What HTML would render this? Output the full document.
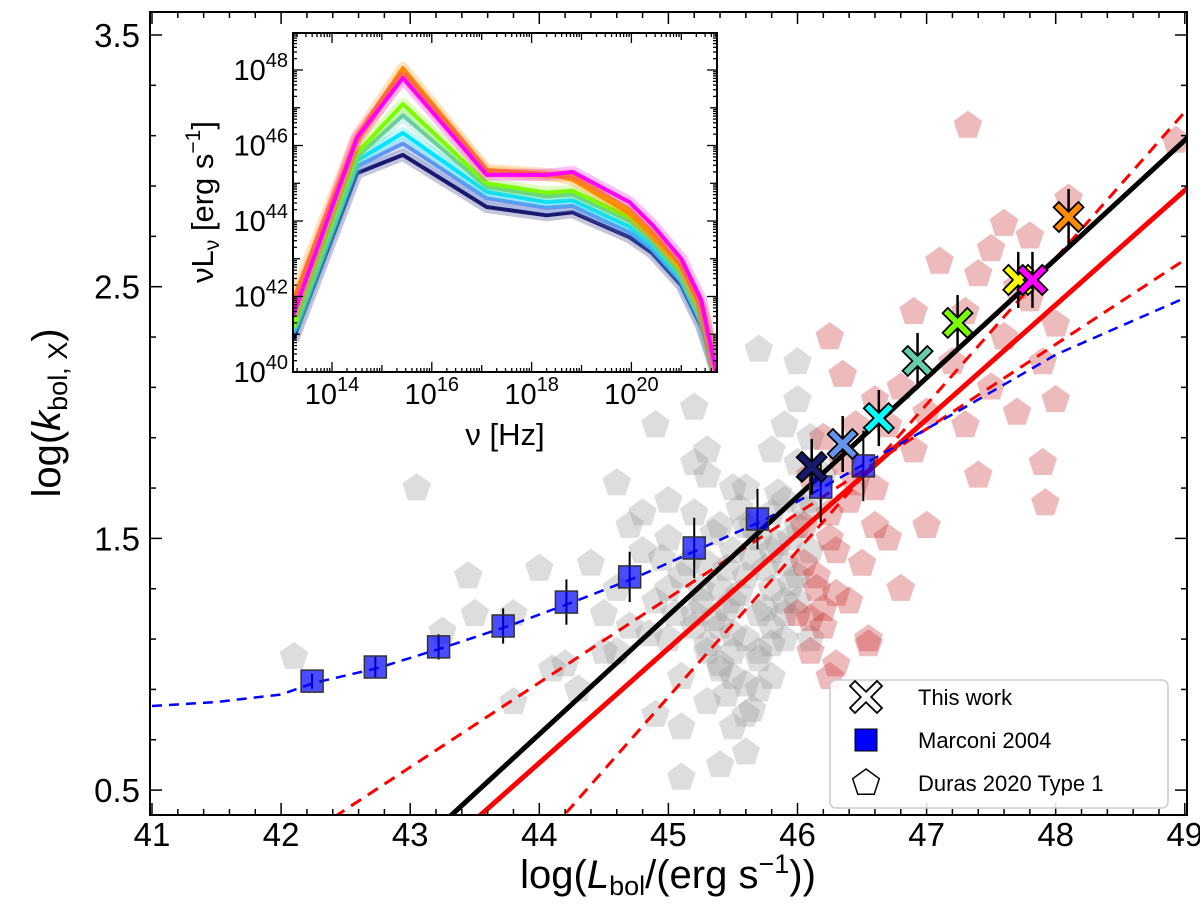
<!DOCTYPE html>
<html><head><meta charset="utf-8"><style>
html,body{margin:0;padding:0;background:#fff;overflow:hidden;width:1200px;height:924px;}
svg{display:block;font-family:"Liberation Sans","DejaVu Sans",sans-serif;}
</style></head>
<body>
<svg id="chart" width="1200" height="924" viewBox="0 0 1200 924"></svg>
<script>
// ---- main chart data ----
const grayX=[42.1,43.05,43.25,43.45,43.5,43.8,44.0,44.1,44.3,44.6,44.9,45.2,45.7,46.0,45.4,44.9,45.6,43.8,45.1,
44.5,44.6,44.7,44.8,44.9,45.0,45.0,45.1,45.1,45.2,45.2,45.3,45.3,45.3,45.4,45.4,45.4,45.5,45.5,45.5,45.6,45.6,45.6,45.7,45.7,45.7,45.8,45.8,45.8,45.9,45.9,45.9,46.0,46.0,46.0,46.1,46.1,
44.4,44.6,44.8,45.0,45.2,45.3,45.5,45.6,45.8,45.9,46.0,46.1,45.2,45.4,45.6,45.8,44.7,45.0,45.1,45.3,45.5,45.7,45.9,46.0,44.2,44.5,45.5,45.8,46.1,46.2,
45.25,45.35,45.45,45.55,45.65,45.75,45.85,45.95,45.3,45.5,45.7,45.9,45.4,45.6,45.8,46.05,45.15,45.35,45.55,45.75,45.95,45.05,45.25,45.45,45.65,45.85,44.85,44.95,45.45,45.65];
const grayY=[1.03,1.70,1.13,1.35,1.20,1.20,1.38,0.98,0.90,1.72,1.95,2.02,2.25,2.20,0.60,0.80,0.65,0.85,0.55,
1.05,1.30,1.15,1.45,1.25,1.10,1.50,1.35,0.95,1.20,1.60,1.05,1.40,1.75,1.15,1.30,1.55,0.95,1.25,1.45,1.10,1.35,1.70,1.20,1.50,0.90,1.30,1.60,1.85,1.10,1.40,1.95,1.25,1.55,1.80,1.45,1.90,
1.40,1.05,1.60,1.30,1.15,0.85,1.05,1.55,1.15,1.65,1.35,1.65,1.80,1.00,0.80,0.95,1.55,1.65,0.75,1.85,1.70,1.05,1.25,2.05,1.00,1.20,0.75,1.45,1.10,1.75,
1.25,1.18,1.38,1.28,1.42,1.22,1.48,1.32,1.08,1.12,1.02,1.20,0.98,0.92,1.08,1.62,1.40,1.52,1.62,1.38,1.50,1.20,1.30,1.22,1.55,1.68,1.12,1.42,0.88,0.82];
const redX=[46.0,46.05,46.1,46.1,46.15,46.2,46.2,46.25,46.3,46.3,46.35,46.4,46.4,46.45,46.5,46.55,46.6,46.6,46.7,46.7,46.8,46.9,47.0,46.25,46.35,
47.2,47.3,47.4,47.5,47.5,47.6,47.7,47.7,47.8,47.8,47.9,47.9,48.0,48.0,47.6,47.3,47.4,46.9,47.1,48.1,47.32,48.93,47.92,46.55,46.25,46.8,47.0,
46.1,46.2,46.15,46.05,46.3,46.25,46.45,46.6];
const redY=[1.20,1.55,1.05,1.75,1.35,1.90,1.15,1.60,1.00,1.45,1.80,1.25,1.65,1.95,1.40,1.10,1.70,2.05,1.50,1.95,2.10,1.85,2.00,2.30,2.15,
2.20,2.40,2.55,2.10,2.65,2.30,2.50,2.00,2.45,2.70,2.20,1.80,2.35,2.05,2.75,1.95,1.75,2.40,2.60,2.85,3.14,3.08,1.64,1.08,0.95,1.30,1.55,
1.18,1.22,1.30,1.40,1.28,1.50,1.72,1.55];
const marX=[42.24,42.73,43.22,43.72,44.21,44.70,45.20,45.69,46.18,46.51];
const marY=[0.933,0.989,1.069,1.152,1.247,1.347,1.462,1.577,1.704,1.788];
const marErr=[0.03,0.04,0.05,0.07,0.09,0.10,0.12,0.12,0.14,0.14];
const blueX=[41,41.5,42,42.25,42.75,43.25,43.75,44.25,44.75,45.25,45.75,46.5,47.26,48,49];
const blueY=[0.834,0.85,0.88,0.925,0.985,1.065,1.15,1.245,1.345,1.46,1.575,1.79,2.01,2.23,2.455];
const workX=[46.11,46.35,46.63,46.93,47.24,47.71,47.82,48.10];
const workY=[1.784,1.875,1.978,2.205,2.356,2.527,2.527,2.777];
const workColors=["#191970","#6495ed","#00ffff","#66cdaa","#7cfc00","#ffff00","#ff00ff","#ff8c00"];
const blackFit=[0.472,1.194];
const redFit=[0.455,1.063];
const redLoA=[0.336,1.263];
const redHiA=[0.581,0.870];
// ---- inset data ----
const sedNu=[13.22,14.5,15.42,17.1,18.3,18.82,19.96,20.42,21.0,21.4,21.7];
const sedNavy=[40.85,45.27,45.75,44.37,44.15,44.23,43.57,43.15,42.3,41.2,40.0];
const sedBlue=[41.0,45.45,46.05,44.6,44.35,44.4,43.7,43.25,42.4,41.3,40.0];
const sedCyan=[41.1,45.6,46.33,44.77,44.5,44.55,43.85,43.35,42.5,41.4,40.0];
const sedAqua=[41.15,45.7,46.8,44.9,44.65,44.7,44.0,43.5,42.6,41.5,40.0];
const sedGreen=[41.2,45.8,47.1,45.0,44.75,44.8,44.1,43.6,42.7,41.6,40.0];
const sedYellow=[41.7,46.1,47.9,45.3,45.2,45.2,44.3,43.7,42.8,41.7,40.0];
const sedMagenta=[41.5,46.2,47.79,45.22,45.22,45.3,44.5,43.9,43.0,41.9,40.0];
const sedOrange=[41.9,46.25,48.05,45.35,45.25,45.1,44.2,43.6,42.8,41.7,40.0];

const NS="http://www.w3.org/2000/svg";
const svg=document.getElementById('chart');
function mk(tag,attrs,parent){const e=document.createElementNS(NS,tag);for(const k in attrs)e.setAttribute(k,attrs[k]);(parent||svg).appendChild(e);return e;}
const X0=152,XS=129.1,Y0=35,YS=251.7;
const sx=v=>X0+(v-41)*XS, sy=v=>Y0+(3.5-v)*YS;
const PL=150,PR=1187,PT=12,PB=815;
const defs=mk('defs',{});
const cp=mk('clipPath',{id:'pc'},defs);mk('rect',{x:PL,y:PT,width:PR-PL,height:PB-PT},cp);
const plot=mk('g',{'clip-path':'url(#pc)'});



function pent(cx,cy,r){let p=[];for(let i=0;i<5;i++){const a=-Math.PI/2+i*2*Math.PI/5;p.push((cx+r*Math.cos(a)).toFixed(1)+','+(cy+r*Math.sin(a)).toFixed(1));}return p.join(' ');}
for(let i=0;i<grayX.length;i++){const e=mk('polygon',{points:pent(sx(grayX[i]),sy(grayY[i]),15),fill:'#999',opacity:0.33},plot);

}
for(let i=0;i<redX.length;i++){const e=mk('polygon',{points:pent(sx(redX[i]),sy(redY[i]),15),fill:'#c83232',opacity:0.33},plot);

}

function fitLine(f,color,w,dash,name){
  const yMin=0.35;
  let a=45+(yMin-f[1])/f[0]; if(a<40.9)a=40.9;
  const b=49.2;
  const e=mk('line',{x1:sx(a),y1:sy(f[1]+f[0]*(a-45)),x2:sx(b),y2:sy(f[1]+f[0]*(b-45)),stroke:color,'stroke-width':w},plot);if(dash)e.setAttribute('stroke-dasharray',dash);

}
fitLine(redLoA,'#ff0000',3,'12,8','red-dashed-lower-bound');
fitLine(redHiA,'#ff0000',3,'12,8','red-dashed-upper-bound');
fitLine(redFit,'#ff0000',5,null,'red-fit-line');
let bd='';for(let i=0;i<blueX.length;i++)bd+=(i?'L':'M')+sx(blueX[i]).toFixed(1)+','+sy(blueY[i]).toFixed(1);
const bc=mk('path',{d:bd,fill:'none',stroke:'#0000ff','stroke-width':2.5,'stroke-dasharray':'10,7','stroke-linejoin':'round'},plot);


fitLine(blackFit,'#000',5,null,'black-fit-line');
for(let i=0;i<marX.length;i++){const cx=sx(marX[i]),cy=sy(marY[i]),h=marErr[i]*YS;
mk('line',{x1:cx,y1:cy-h,x2:cx,y2:cy+h,stroke:'#000','stroke-width':2},plot);
const r=mk('rect',{x:cx-11,y:cy-11,width:22,height:22,fill:'#0000ff','fill-opacity':0.7,stroke:'#333','stroke-width':1.5},plot);

}
function cross(cx,cy,s,fill,parent){const a=s*0.35,b=s;const pts=[[0,-a],[b-a,-b],[b,-(b-a)],[a,0],[b,b-a],[b-a,b],[0,a],[-(b-a),b],[-b,b-a],[-a,0],[-b,-(b-a)],[-(b-a),-b]];
return mk('polygon',{points:pts.map(p=>(cx+p[0]).toFixed(1)+','+(cy+p[1]).toFixed(1)).join(' '),fill:fill,stroke:'#000','stroke-width':1.8,'stroke-linejoin':'miter'},parent);}
for(let i=0;i<workX.length;i++){const cx=sx(workX[i]),cy=sy(workY[i]);
mk('line',{x1:cx,y1:cy-28,x2:cx,y2:cy+28,stroke:'#000','stroke-width':2.5},plot);}
for(let i=0;i<workX.length;i++){const c=cross(sx(workX[i]),sy(workY[i]),15,workColors[i],plot);

}

const fr=mk('rect',{x:PL,y:PT,width:PR-PL,height:PB-PT,fill:'none',stroke:'#000','stroke-width':2});


const xTicks=[41,42,43,44,45,46,47,48,49];
const yTicks=[0.5,1.5,2.5,3.5];
for(let v=41;v<=49.001;v+=0.2){const x=sx(v);const maj=Math.abs(v-Math.round(v))<1e-6;const L=maj?12:6;
mk('line',{x1:x,y1:PB,x2:x,y2:PB-L,stroke:'#000','stroke-width':1.5});mk('line',{x1:x,y1:PT,x2:x,y2:PT+L,stroke:'#000','stroke-width':1.5});}
for(let v=0.5;v<=3.6;v+=0.2){const y=sy(v);if(y<PT||y>PB)continue;const maj=Math.abs((v-0.5)-Math.round(v-0.5))<1e-6;const L=maj?12:6;
mk('line',{x1:PL,y1:y,x2:PL+L,y2:y,stroke:'#000','stroke-width':1.5});mk('line',{x1:PR,y1:y,x2:PR-L,y2:y,stroke:'#000','stroke-width':1.5});}
for(const v of xTicks){const t=mk('text',{x:sx(v),y:846,'font-size':33,'text-anchor':'middle'});t.textContent=v;

}
for(const v of yTicks){const t=mk('text',{x:140,y:sy(v)+12,'font-size':33,'text-anchor':'end'});t.textContent=v.toFixed(1);

}
</script>
<script>
const NS2="http://www.w3.org/2000/svg";
const s2=document.getElementById('chart');
s2.insertAdjacentHTML('beforeend',`
<text x="668" y="888" font-size="40" text-anchor="middle">log(<tspan font-style="italic">L</tspan><tspan font-size="27" dy="7">bol</tspan><tspan dy="-7">/(erg s</tspan><tspan font-size="27" dy="-15">−1</tspan><tspan dy="15">))</tspan></text>
<text transform="translate(60,413) rotate(-90)" font-size="40" text-anchor="middle">log(<tspan font-style="italic">k</tspan><tspan font-size="27" dy="7">bol, X</tspan><tspan dy="-7">)</tspan></text>
<g>
<rect x="830" y="680" width="338" height="128" rx="6" fill="#fff" fill-opacity="0.85" stroke="#ccc" stroke-width="1.5"/>
<polygon points="866,691.8 877.0,681 882,686 871.2,697 882,708 877.0,713 866,702.2 855.0,713 850,708 860.8,697 850,686 855.0,681" fill="#fff" stroke="#000" stroke-width="1.8"/>
<text x="918" y="705" font-size="22">This work</text>
<rect x="855" y="729" width="22" height="22" fill="#0000ff" stroke="#000" stroke-width="1"/>
<text x="918" y="748" font-size="22">Marconi 2004</text>
<polygon points="866,769 879.3,778.7 874.2,794.3 857.8,794.3 852.7,778.7" fill="#fff" stroke="#000" stroke-width="1.5"/>
<text x="918" y="791" font-size="22">Duras 2020 Type 1</text>
</g>`);
const IL=293,IR=717,IT=33,IB=372;
const ix=v=>332+(v-14)*49.9, iy=v=>70+(48-v)*37.75;
const ins=document.createElementNS(NS2,'g');


s2.appendChild(ins);
function m2(tag,a,p){const e=document.createElementNS(NS2,tag);for(const k in a)e.setAttribute(k,a[k]);(p||ins).appendChild(e);return e;}
m2('rect',{x:IL,y:IT,width:IR-IL,height:IB-IT,fill:'#fff'});
const cp2=m2('clipPath',{id:'ic'});m2('rect',{x:IL,y:IT,width:IR-IL,height:IB-IT},cp2);
const ig=m2('g',{'clip-path':'url(#ic)'});
const seds=[[sedNavy,'#191970'],[sedBlue,'#6495ed'],[sedCyan,'#00e5ff'],[sedAqua,'#66cdaa'],[sedGreen,'#7cfc00'],[sedYellow,'#ffa500'],[sedOrange,'#ff8c00'],[sedMagenta,'#ff00ff']];
for(const [arr,c] of seds){let d='';for(let i=0;i<sedNu.length;i++)d+=(i?'L':'M')+ix(sedNu[i]).toFixed(1)+','+iy(arr[i]).toFixed(1);
m2('path',{d:d,fill:'none',stroke:c,'stroke-width':12,'stroke-opacity':0.25,'stroke-linejoin':'round'},ig);
const p=m2('path',{d:d,fill:'none',stroke:c,'stroke-width':4,'stroke-linejoin':'round'},ig);

}
m2('rect',{x:IL,y:IT,width:IR-IL,height:IB-IT,fill:'none',stroke:'#000','stroke-width':2});
const inXT=[14,16,18,20];
const inYT=[40,42,44,46,48];
for(let d=13;d<=21;d++){for(let k=1;k<10;k++){const v=d+Math.log10(k);const x=ix(v);if(x<IL||x>IR)continue;const L=k==1?(d%2==0?10:7):4;
m2('line',{x1:x,y1:IB,x2:x,y2:IB-L,stroke:'#000','stroke-width':1.3});m2('line',{x1:x,y1:IT,x2:x,y2:IT+L,stroke:'#000','stroke-width':1.3});}}
for(let d=40;d<=48;d++){for(let k=1;k<10;k++){const v=d+Math.log10(k);const y=iy(v);if(y<IT||y>IB)continue;const L=k==1?(d%2==0?10:7):4;
m2('line',{x1:IL,y1:y,x2:IL+L,y2:y,stroke:'#000','stroke-width':1.3});m2('line',{x1:IR,y1:y,x2:IR-L,y2:y,stroke:'#000','stroke-width':1.3});}}
for(const v of inXT){const t=m2('text',{x:ix(v),y:404,'font-size':29,'text-anchor':'middle'});t.innerHTML='10<tspan font-size="20" dy="-13">'+v+'</tspan>';

}
for(const v of inYT){const t=m2('text',{x:288,y:iy(v)+10,'font-size':29,'text-anchor':'end'});t.innerHTML='10<tspan font-size="20" dy="-13">'+v+'</tspan>';

}
const xt=m2('text',{x:505,y:445,'font-size':31,'text-anchor':'middle'});xt.textContent='ν [Hz]';


const yt=m2('text',{transform:'translate(213,202) rotate(-90)','font-size':31,'text-anchor':'middle'});yt.innerHTML='νL<tspan font-size="21" dy="6">ν</tspan><tspan dy="-6"> [erg s</tspan><tspan font-size="21" dy="-13">−1</tspan><tspan dy="13">]</tspan>';


</script>
</body></html>
